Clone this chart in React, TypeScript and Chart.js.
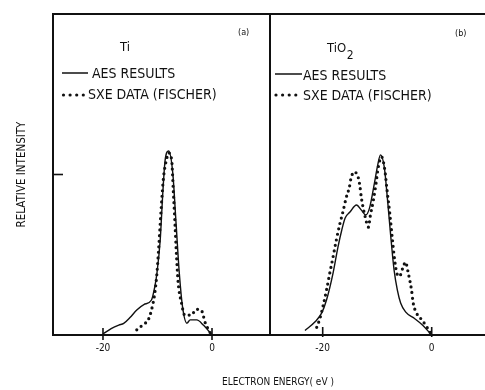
import { useEffect, useRef } from "react";
import { Chart, registerables } from "chart.js";

Chart.register(...registerables);

// ---- Data ----
// Panel (a): Ti
const aesTiX = [-20, -18.5, -17.1, -16.2, -15, -13.8, -12.5, -11.1, -10.5, -10.1, -9.5, -9.0, -8.6, -7.95, -7.2, -6.6, -6.0, -5.4, -4.6, -4.0, -2.8, -1.6, 0];
const aesTiY = [0.3, 2, 3.1, 3.6, 5.5, 7.8, 9.5, 10.9, 15, 19.3, 29.6, 45, 54.5, 57.3, 50.5, 35, 19.3, 8.7, 3.7, 4.7, 4.7, 3.1, 0];
const sxeTiX = [-13.8, -12.6, -11.7, -11.1, -10.5, -10.1, -9.8, -9.3, -8.9, -8.3, -7.95, -7.4, -7.1, -6.8, -6.5, -6.2, -5.6, -5.0, -3.8, -2.9, -2.0, -1.2, -0.3];
const sxeTiY = [1.6, 3.3, 4.7, 7.8, 13, 19.3, 26.5, 40, 49, 55, 56.7, 54.5, 45, 35, 24.3, 16.2, 10, 6.2, 6.2, 8, 7.8, 3.6, 0.6];

// Panel (b): TiO2
const aesTiO2X = [-23.25, -21.4, -20.2, -19.3, -18.1, -17.2, -16.5, -15.9, -15.0, -13.8, -12.9, -12.1, -11.4, -10.5, -9.9, -9.4, -8.7, -8.1, -7.5, -6.9, -6.3, -5.7, -4.8, -3.2, -1.7, 0];
const aesTiO2Y = [1.4, 4.1, 6.8, 10.9, 19.3, 27.4, 32.7, 36.4, 38.3, 40.5, 38.9, 37.4, 39.6, 47.4, 53, 56.1, 52.3, 42, 30.5, 20.2, 14, 10, 7.2, 5.2, 3.1, 0];
const sxeTiO2X = [-21.1, -20.5, -19.9, -19.3, -18.7, -18.1, -17.5, -16.9, -16.3, -15.7, -15.1, -14.8, -14.2, -13.5, -13.2, -12.9, -12.2, -11.6, -11.3, -10.7, -10.2, -9.8, -9.2, -8.6, -8.2, -7.7, -7.2, -6.8, -6.4, -5.9, -5.3, -4.8, -4.3, -3.7, -3.4, -2.8, -1.8, -0.9, 0];
const sxeTiO2Y = [2.4, 5.2, 9.3, 14, 19.3, 24.3, 29.6, 34.3, 38.3, 42.7, 46.1, 48.9, 50.8, 49.2, 46.7, 42.7, 36.8, 33.6, 36.8, 42, 47.4, 52.3, 55.5, 51.4, 45.2, 38, 29.6, 23.4, 19.3, 18.3, 20.9, 22.7, 19.3, 14, 10, 6.9, 4.7, 2.5, 0];

const xTickValues = [-20, 0];
const yTickValues = [50];
const xAxisTitle = "ELECTRON ENERGY( eV )";
const yAxisTitle = "RELATIVE INTENSITY";
const seriesLabels = ["AES RESULTS", "SXE DATA (FISCHER)"];
const panelNames = ["Ti", "TiO"];
const panelTags = ["(a)", "(b)"];

const INK = "#111";
const FONT = '"DejaVu Sans Condensed", "Liberation Sans Narrow", "DejaVu Sans", sans-serif';
const W = 485;
const H = 390;
const PLOT_TOP = 14;
const PLOT_BOTTOM = 335;

const pairs = (xs: number[], ys: number[]) => xs.map((x, i) => ({ x, y: ys[i] }));

type PanelCfg = {
  left: number; // canvas left offset (page px)
  width: number;
  yAxisWidth: number;
  xMin: number;
  xMax: number;
  aes: { x: number; y: number }[];
  sxe: { x: number; y: number }[];
  showYTitle: boolean;
  showYTick: boolean;
  tickUp: number;
  tickDown: number;
  index: number;
};

function makeChart(canvas: HTMLCanvasElement, p: PanelCfg) {
  const ticksPlugin = {
    id: "inwardTicks",
    afterDraw(chart: any) {
      const { ctx, chartArea, scales } = chart;
      ctx.save();
      ctx.strokeStyle = INK;
      ctx.lineWidth = 1.6;
      ctx.setLineDash([]);
      for (const v of xTickValues) {
        const px = scales.x.getPixelForValue(v);
        ctx.beginPath();
        ctx.moveTo(px, chartArea.bottom - p.tickUp);
        ctx.lineTo(px, chartArea.bottom + p.tickDown);
        ctx.stroke();
      }
      if (p.showYTick) {
        for (const v of yTickValues) {
          const py = scales.y.getPixelForValue(v);
          ctx.beginPath();
          ctx.moveTo(chartArea.left + 1, py);
          ctx.lineTo(chartArea.left + 10, py);
          ctx.stroke();
        }
      }
      ctx.restore();
    },
  };

  const notesPlugin = {
    id: "panelNotes",
    afterDraw(chart: any) {
      const ctx = chart.ctx as CanvasRenderingContext2D;
      const o = p.left;
      ctx.save();
      ctx.fillStyle = INK;
      ctx.strokeStyle = INK;
      ctx.textBaseline = "alphabetic";
      ctx.textAlign = "left";
      const a = p.index === 0;
      // panel name
      ctx.font = `13px ${FONT}`;
      const nx = (a ? 120 : 327) - o;
      const ny = a ? 51 : 52;
      ctx.fillText(panelNames[p.index], nx, ny);
      if (!a) {
        const w = ctx.measureText(panelNames[p.index]).width;
        ctx.font = `12px ${FONT}`;
        ctx.fillText("2", nx + w + 0.5, 59);
      }
      // tag
      ctx.font = `9px ${FONT}`;
      ctx.fillText(panelTags[p.index], (a ? 238 : 455) - o, a ? 35 : 36);
      // legend: solid line
      ctx.lineWidth = 1.5;
      ctx.beginPath();
      const ly = a ? 73 : 74;
      ctx.moveTo((a ? 62 : 275) - o, ly);
      ctx.lineTo((a ? 88 : 302) - o, ly);
      ctx.stroke();
      ctx.font = `14px ${FONT}`;
      ctx.fillText(seriesLabels[0], (a ? 92 : 303) - o, a ? 78 : 80);
      // legend: dots
      const dx0 = (a ? 63.5 : 276) - o;
      for (let i = 0; i < 4; i++) {
        ctx.beginPath();
        ctx.arc(dx0 + i * 6.6, 95, 1.6, 0, Math.PI * 2);
        ctx.fill();
      }
      ctx.fillText(seriesLabels[1], (a ? 88 : 303) - o, a ? 99 : 100);
      ctx.restore();
    },
  };

  return new Chart(canvas, {
    type: "line",
    data: {
      datasets: [
        {
          label: seriesLabels[0],
          data: p.aes,
          borderColor: INK,
          borderWidth: 1.4,
          pointRadius: 0,
          cubicInterpolationMode: "monotone",
          fill: false,
        },
        {
          label: seriesLabels[1],
          data: p.sxe,
          borderColor: INK,
          borderWidth: 3.2,
          borderDash: [0, 5.6],
          borderCapStyle: "round",
          borderJoinStyle: "round",
          pointRadius: 0,
          cubicInterpolationMode: "monotone",
          fill: false,
        },
      ],
    },
    options: {
      responsive: false,
      animation: false,
      events: [],
      layout: { padding: 0 },
      plugins: {
        legend: { display: false },
        tooltip: { enabled: false },
        title: { display: false },
      },
      scales: {
        x: {
          type: "linear",
          position: "bottom",
          min: p.xMin,
          max: p.xMax,
          afterBuildTicks: (s: any) => {
            s.ticks = xTickValues.map((value) => ({ value }));
          },
          afterFit: (s: any) => {
            s.height = H - PLOT_BOTTOM;
          },
          ticks: {
            autoSkip: false,
            maxRotation: 0,
            padding: 7,
            color: INK,
            font: { family: FONT, size: 10 },
          },
          grid: { display: false, drawTicks: false },
          border: { display: true, color: INK, width: 2 },
        },
        x2: {
          type: "linear",
          axis: "x",
          position: "top",
          min: p.xMin,
          max: p.xMax,
          ticks: { display: false },
          grid: { display: false, drawTicks: false },
          border: { display: true, color: INK, width: 2 },
          afterFit: (s: any) => {
            s.height = PLOT_TOP;
          },
        },
        y: {
          type: "linear",
          position: "left",
          min: 0,
          max: 100,
          ticks: { display: false },
          grid: { display: false, drawTicks: false },
          border: { display: true, color: INK, width: 2 },
          title: {
            display: p.showYTitle,
            text: yAxisTitle,
            color: INK,
            font: { family: FONT, size: 11.5 },
            padding: { top: 15, bottom: 0 },
          },
          afterFit: (s: any) => {
            s.width = p.yAxisWidth;
          },
        },
      },
    },
    plugins: [ticksPlugin, notesPlugin],
  } as any);
}

export default function App() {
  const refA = useRef<HTMLCanvasElement | null>(null);
  const refB = useRef<HTMLCanvasElement | null>(null);

  useEffect(() => {
    const charts: Chart[] = [];
    if (refA.current) {
      charts.push(
        makeChart(refA.current, {
          left: 0,
          width: 270,
          yAxisWidth: 53,
          xMin: -29.17,
          xMax: 10.64,
          aes: pairs(aesTiX, aesTiY),
          sxe: pairs(sxeTiX, sxeTiY),
          showYTitle: true,
          showYTick: true,
          tickUp: 7,
          tickDown: 5,
          index: 0,
        })
      );
    }
    if (refB.current) {
      charts.push(
        makeChart(refB.current, {
          left: 260,
          width: 225,
          yAxisWidth: 10,
          xMin: -29.67,
          xMax: 9.78,
          aes: pairs(aesTiO2X, aesTiO2Y),
          sxe: pairs(sxeTiO2X, sxeTiO2Y),
          showYTitle: false,
          showYTick: false,
          tickUp: 8,
          tickDown: 2,
          index: 1,
        })
      );
    }
    return () => charts.forEach((c) => c.destroy());
  }, []);

  return (
    <div style={{ position: "fixed", left: 0, top: 0, width: W, height: H, background: "#fff", overflow: "hidden" }}>
      <canvas ref={refA} width={270} height={H} style={{ position: "absolute", left: 0, top: 0, width: 270, height: H }} />
      <canvas ref={refB} width={225} height={H} style={{ position: "absolute", left: 260, top: 0, width: 225, height: H }} />
      <div
        style={{
          position: "absolute",
          left: 178,
          top: 376,
          width: 200,
          textAlign: "center",
          fontFamily: FONT,
          fontSize: 10,
          color: INK,
          lineHeight: "12px",
          whiteSpace: "nowrap",
        }}
      >
        {xAxisTitle}
      </div>
    </div>
  );
}
